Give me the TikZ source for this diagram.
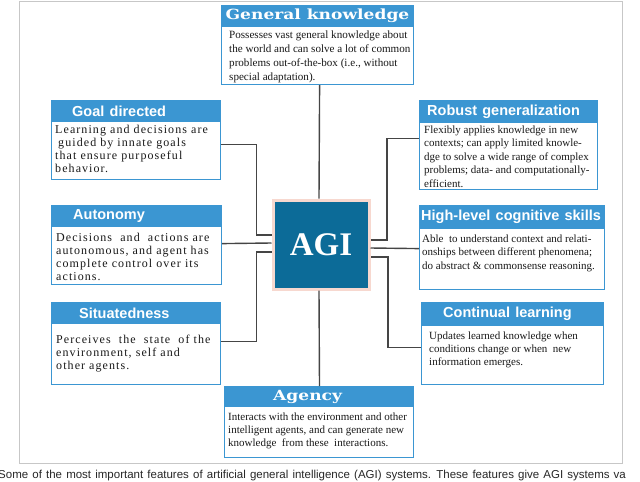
\documentclass[tikz,border=0pt]{standalone}
\usepackage{fontspec}
\setmainfont{Liberation Serif}
\newfontfamily\leftfont[LetterSpace=9]{Liberation Serif}
\newfontfamily\titlesans{Liberation Sans}
\newfontfamily\titleserif[FakeStretch=1.22]{DejaVu Serif}
\newfontfamily\capfont[WordSpace=1.3]{Liberation Sans}
\definecolor{barblue}{HTML}{3B96D2}
\definecolor{agiblue}{HTML}{0C6B98}
\definecolor{agiedge}{HTML}{F7D8CF}
\definecolor{connc}{HTML}{454545}
\newcommand\btxt[1]{\parbox[t]{220pt}{\raggedright #1}}
\begin{document}
\begin{tikzpicture}[x=1pt,y=-1pt,
  bar/.style={fill=barblue, draw=barblue, line width=1pt, inner sep=0pt, anchor=north west},
  bodybox/.style={fill=white, draw=barblue, line width=1.2pt, inner sep=0pt, anchor=north west},
  stitle/.style={font=\titlesans\bfseries\fontsize{14.5}{16}\selectfont, text=white, inner sep=0pt, anchor=west},
  rtitle/.style={font=\titleserif\bfseries\fontsize{14}{16}\selectfont, text=white, inner sep=0pt},
  ltext/.style={font=\leftfont\fontsize{12}{13.3}\selectfont, text=black!90, inner sep=0pt, anchor=base west},
  rtext/.style={font=\fontsize{11}{13.4}\selectfont, text=black!90, inner sep=0pt, anchor=base west},
  conn/.style={draw=connc, line width=1.4pt}]
\useasboundingbox (0,0) rectangle (640,482);
% outer frame
\draw[black!22, line width=1pt] (19,1) rectangle (622,463);

% General knowledge
\node[bodybox, minimum width=192pt, minimum height=58pt] (gk) at (221,26) {};
\node[bar, minimum width=192pt, minimum height=21pt] (gkt) at (221,5) {};
\node[rtitle] (gktx) at (gkt.center) {General knowledge};
\node[rtext, font=\fontsize{11.1}{14}\selectfont] (gkb) at ([xshift=8pt,yshift=-12pt]gk.north west) {\btxt{Possesses vast general knowledge about\\the world and can solve a lot of common\\problems out-of-the-box (i.e., without\\special adaptation).}};

% Goal directed
\node[bodybox, minimum width=169pt, minimum height=58pt] (gd) at (51,121) {};
\node[bar, minimum width=169pt, minimum height=21pt] (gdt) at (51,100) {};
\node[stitle] (gdtx) at ([xshift=21pt]gdt.west) {Goal directed};
\node[ltext] (gdb) at ([xshift=4pt,yshift=-12pt]gd.north west) {\btxt{Learning and decisions are\\\hspace*{3pt}guided by innate goals\\that ensure purposeful\\behavior.}};

% Autonomy
\node[bodybox, minimum width=170pt, minimum height=58pt] (au) at (51,226) {};
\node[bar, minimum width=170pt, minimum height=21pt] (aut) at (51,205) {};
\node[stitle] (autx) at ([xshift=22pt]aut.west) {Autonomy};
\node[ltext] (aub) at ([xshift=5pt,yshift=-15pt]au.north west) {\btxt{Decisions\ \ and\ \ actions are\\autonomous, and agent has\\complete control over its\\actions.}};

% Situatedness
\node[bodybox, minimum width=169pt, minimum height=61pt] (st) at (51,323) {};
\node[bar, minimum width=169pt, minimum height=21pt] (stt) at (51,302) {};
\node[stitle] (sttx) at ([xshift=28pt]stt.west) {Situatedness};
\node[ltext] (stb) at ([xshift=5pt,yshift=-20pt]st.north west) {\btxt{Perceives\ \ the\ \ state\ \ of the\\environment, self and\\other agents.}};

% Robust generalization
\node[bodybox, minimum width=178pt, minimum height=67pt] (rg) at (419,122) {};
\node[bar, minimum width=178pt, minimum height=22pt] (rgt) at (419,100) {};
\node[stitle] (rgtx) at ([xshift=8pt]rgt.west) {Robust generalization};
\node[rtext] (rgb) at ([xshift=5pt,yshift=-11.5pt]rg.north west) {\btxt{Flexibly applies knowledge in new\\contexts; can apply limited knowle-\\dge to solve a wide range of complex\\problems; data- and computationally-\\efficient.}};

% High-level cognitive skills
\node[bodybox, minimum width=185pt, minimum height=61pt] (hl) at (419,228) {};
\node[bar, minimum width=185pt, minimum height=23pt] (hlt) at (419,205) {};
\node[stitle] (hltx) at ([xshift=2pt]hlt.west) {High-level cognitive skills};
\node[rtext] (hlb) at ([xshift=3pt,yshift=-14.5pt]hl.north west) {\btxt{Able\ \ to understand context and relati-\\onships between different phenomena;\\do abstract \& commonsense reasoning.}};

% Continual learning
\node[bodybox, minimum width=182pt, minimum height=59pt] (cl) at (421,325) {};
\node[bar, minimum width=182pt, minimum height=23pt] (clt) at (421,302) {};
\node[stitle] (cltx) at ([xshift=22pt]clt.west) {Continual learning};
\node[rtext] (clb) at ([xshift=8pt,yshift=-14pt]cl.north west) {\btxt{Updates learned knowledge when\\conditions change or when\ \ new\\information emerges.}};

% Agency
\node[bodybox, minimum width=189pt, minimum height=51pt] (ag) at (224,406) {};
\node[bar, minimum width=189pt, minimum height=20pt] (agt) at (224,386) {};
\node[rtitle, anchor=west] (agtx) at ([xshift=49pt]agt.west) {Agency};
\node[rtext] (agb) at ([xshift=4pt,yshift=-14pt]ag.north west) {\btxt{Interacts with the environment and other\\intelligent agents, and can generate new\\knowledge\ \ from these\ \ interactions.}};

% AGI
\node[fill=agiblue, draw=agiedge, line width=3pt, minimum width=96pt, minimum height=89pt, inner sep=0pt,
      font=\bfseries\fontsize{33}{36}\selectfont, text=white] (agi) at (321,244.5) {AGI};

% connectors
\draw[conn] ([xshift=2pt]gk.south) -- ([xshift=-2pt]agi.north);
\draw[conn] ([xshift=-2pt]agi.south) -- ([xshift=0.5pt]agt.north);
\draw[conn] ([yshift=6pt]gd.east) -- ++(35,0) |- ([yshift=9.5pt]agi.west);
\draw[conn] ([yshift=12pt]au.east) -- ([yshift=1.5pt]agi.west);
\draw[conn] ([yshift=12.5pt]st.east) -- ++(35,0) |- ([yshift=-7.5pt]agi.west);
\draw[conn] ([yshift=17.5pt]rg.west) -- ++(-32,0) |- ([yshift=4.5pt]agi.east);
\draw[conn] ([yshift=10.5pt]hl.west) -- ([yshift=-3.5pt]agi.east);
\draw[conn] ([yshift=7.5pt]cl.west) -- ++(-33,0) |- ([yshift=-12.5pt]agi.east);

% caption
\node[anchor=base west, inner sep=0pt, font=\capfont\fontsize{11.5}{13}\selectfont, text=black!85] (cap) at (-2,478)
  {Some of the most important features of artificial general intelligence (AGI) systems. These features give AGI systems va};
\end{tikzpicture}
\end{document}
